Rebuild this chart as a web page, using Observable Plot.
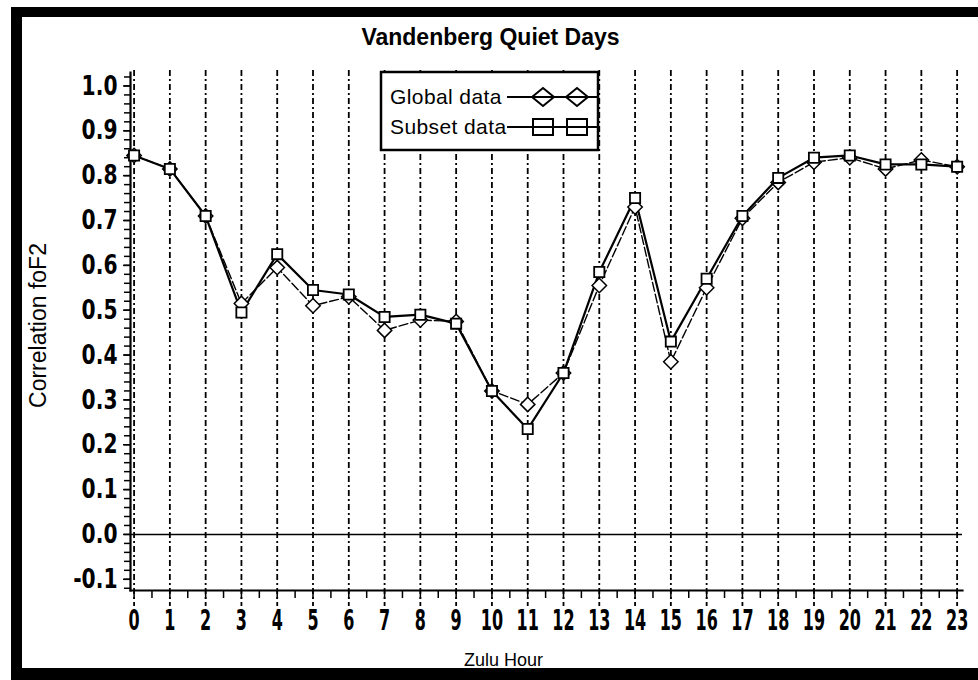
<!DOCTYPE html>
<html><head><meta charset="utf-8">
<script src="https://cdn.jsdelivr.net/npm/d3@7"></script>
<script src="https://cdn.jsdelivr.net/npm/@observablehq/plot@0.6"></script>
<style>body{margin:0;background:#fff} svg{display:block}</style>
</head><body><div id="chart"></div>
<script>
const title = "Vandenberg Quiet Days";
const xLabel = "Zulu Hour";
const yLabel = "Correlation foF2";
const hours = [0,1,2,3,4,5,6,7,8,9,10,11,12,13,14,15,16,17,18,19,20,21,22,23];
const halfHours = [0.5,1.5,2.5,3.5,4.5,5.5,6.5,7.5,8.5,9.5,10.5,11.5,12.5,13.5,14.5,15.5,16.5,17.5,18.5,19.5,20.5,21.5,22.5];
const globalData = [0.845,0.815,0.71,0.515,0.595,0.51,0.53,0.455,0.478,0.475,0.32,0.29,0.36,0.555,0.73,0.385,0.55,0.705,0.785,0.83,0.84,0.815,0.835,0.82];
const subsetData = [0.845,0.815,0.71,0.495,0.625,0.545,0.535,0.485,0.49,0.47,0.32,0.235,0.36,0.585,0.75,0.43,0.57,0.71,0.795,0.84,0.845,0.825,0.825,0.82];
const yTicks = [-0.1,0,0.1,0.2,0.3,0.4,0.5,0.6,0.7,0.8,0.9,1.0];
const yTickLabels = ["-0.1","0.0","0.1","0.2","0.3","0.4","0.5","0.6","0.7","0.8","0.9","1.0"];
const yMinorTicks = [-0.12,-0.1,-0.08,-0.06,-0.04,-0.02,0,0.02,0.04,0.06,0.08,0.1,0.12,0.14,0.16,0.18,0.2,0.22,0.24,0.26,0.28,0.3,0.32,0.34,0.36,0.38,0.4,0.42,0.44,0.46,0.48,0.5,0.52,0.54,0.56,0.58,0.6,0.62,0.64,0.66,0.68,0.7,0.72,0.74,0.76,0.78,0.8,0.82,0.84,0.86,0.88,0.9,0.92,0.94,0.96,0.98,1.0,1.02];
const seriesNames = ["Global data", "Subset data"];

const globalRows = hours.map((h, i) => ({hour: h, value: globalData[i]}));
const subsetRows = hours.map((h, i) => ({hour: h, value: subsetData[i]}));

const tickFont = "'DejaVu Sans', sans-serif";
const textFont = "'Liberation Sans', Arial, sans-serif";

const chart = Plot.plot({
  width: 978,
  height: 680,
  marginLeft: 130,
  marginRight: 16,
  marginTop: 72,
  marginBottom: 90,
  style: {fontFamily: textFont, color: "black", background: "white"},
  x: {domain: [-0.1, 23.15], label: null},
  y: {domain: [-0.125, 1.03], label: null},
  marks: [
    Plot.ruleX(hours, {x: d => d, insetTop: -2, insetBottom: -16, stroke: "black", strokeWidth: 1.8, strokeDasharray: "6,3,2,3"}),
    Plot.ruleY([0], {stroke: "black", strokeWidth: 1.5}),
    Plot.axisY(yMinorTicks, {tickSize: 6, tickFormat: () => "", strokeWidth: 1.5}),
    Plot.axisY(yTicks, {tickSize: 7, tickPadding: 6, strokeWidth: 1.5, tickFormat: (d, i) => yTickLabels[i], fontSize: 27, fontWeight: "bold", fontFamily: tickFont}),
    Plot.axisX(halfHours, {tickSize: 8, tickFormat: () => "", strokeWidth: 1.5}),
    Plot.axisX(hours, {tickSize: 9, tickPadding: 11, strokeWidth: 1.5, fontSize: 16, fontWeight: "bold", fontFamily: tickFont}),
    Plot.frame({anchor: "left", strokeWidth: 2.2}),
    Plot.frame({anchor: "bottom", strokeWidth: 2.2}),
    Plot.line(globalRows, {x: "hour", y: "value", stroke: "black", strokeWidth: 1.4, strokeDasharray: "9,3"}),
    Plot.line(subsetRows, {x: "hour", y: "value", stroke: "black", strokeWidth: 2.2}),
    Plot.dot(globalRows, {x: "hour", y: "value", symbol: "diamond2", r: 6.5, fill: "white", stroke: "black", strokeWidth: 1.5}),
    Plot.dot(subsetRows, {x: "hour", y: "value", symbol: "square2", r: 6.5, fill: "white", stroke: "black", strokeWidth: 1.8}),
    Plot.text([title], {frameAnchor: "top", lineAnchor: "middle", dx: -56, dy: -35, fontSize: 23, fontWeight: "bold", letterSpacing: 1.4}),
    Plot.text([yLabel], {frameAnchor: "left", textAnchor: "middle", dx: -92, dy: -6, rotate: -90, fontSize: 23, letterSpacing: 0.7}),
    Plot.text([xLabel], {frameAnchor: "bottom", lineAnchor: "middle", dx: -43, dy: 70, fontSize: 18})
  ]
});
document.getElementById("chart").appendChild(chart);

const svg = d3.select(chart);

// condensed look for the y tick numerals
svg.selectAll('g[aria-label="y-axis tick label"] text').each(function() {
  const w = this.getComputedTextLength();
  if (w > 0) {
    this.setAttribute("textLength", w * 0.75);
    this.setAttribute("lengthAdjust", "spacingAndGlyphs");
  }
});

// tall, narrow x tick numerals: stretch each label vertically from its anchor
svg.selectAll('g[aria-label="x-axis tick label"] text').each(function() {
  const t = this.getAttribute("transform") || "";
  this.setAttribute("transform", t + " scale(1,1.75)");
});

// legend
const lg = svg.append("g").attr("class", "legend");
lg.append("rect").attr("x", 381).attr("y", 72).attr("width", 217).attr("height", 78)
  .attr("fill", "white").attr("stroke", "black").attr("stroke-width", 2.5);
const rows = [
  {name: seriesNames[0], y: 97, sym: "diamond"},
  {name: seriesNames[1], y: 127, sym: "square"}
];
rows.forEach(r => {
  lg.append("text").attr("x", 390).attr("y", r.y + 7).attr("font-size", 21)
    .attr("text-anchor", "start").attr("letter-spacing", 0.4)
    .attr("font-family", textFont).text(r.name);
  lg.append("line").attr("x1", 507).attr("x2", 598).attr("y1", r.y).attr("y2", r.y)
    .attr("stroke", "black").attr("stroke-width", 2);
  [543, 577].forEach(cx => {
    if (r.sym === "diamond") {
      lg.append("path").attr("d", `M${cx-11},${r.y}L${cx},${r.y-9}L${cx+11},${r.y}L${cx},${r.y+9}Z`)
        .attr("fill", "white").attr("stroke", "black").attr("stroke-width", 2);
      lg.append("line").attr("x1", cx-11).attr("x2", cx+11).attr("y1", r.y).attr("y2", r.y).attr("stroke", "black").attr("stroke-width", 2);
    } else {
      lg.append("rect").attr("x", cx-10).attr("y", r.y-8).attr("width", 20).attr("height", 16)
        .attr("fill", "white").attr("stroke", "black").attr("stroke-width", 2);
      lg.append("line").attr("x1", cx-10).attr("x2", cx+10).attr("y1", r.y).attr("y2", r.y).attr("stroke", "black").attr("stroke-width", 2);
    }
  });
});

// outer black frame of the scanned page
const fr = svg.append("g").attr("class", "page-border");
fr.append("rect").attr("x", 11).attr("y", 7).attr("width", 967).attr("height", 10).attr("fill", "black");
fr.append("rect").attr("x", 11).attr("y", 7).attr("width", 11).attr("height", 673).attr("fill", "black");
fr.append("rect").attr("x", 11).attr("y", 668).attr("width", 967).attr("height", 12).attr("fill", "black");
</script>
</body></html>
